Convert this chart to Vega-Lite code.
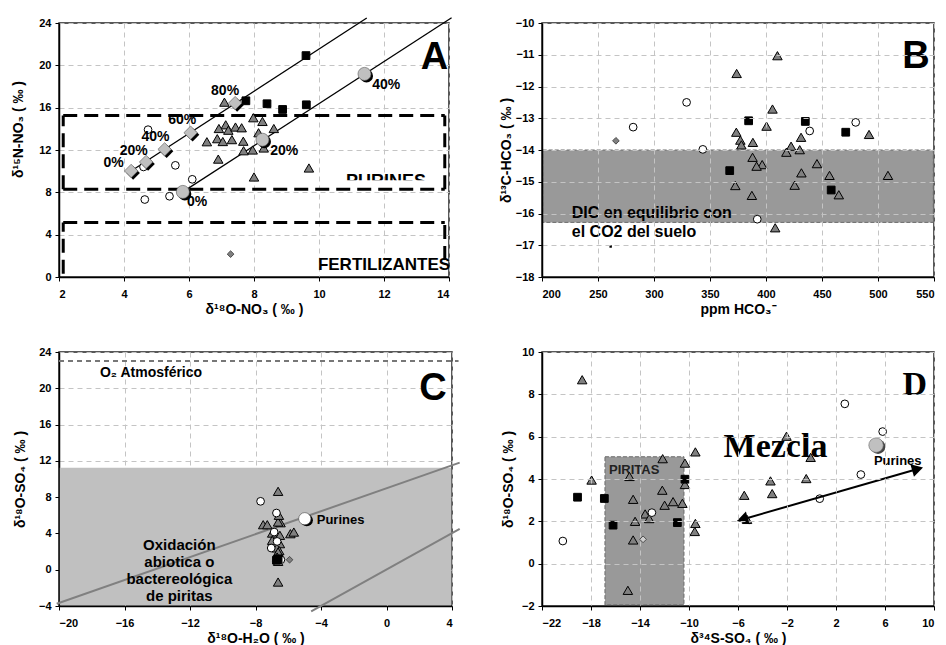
{
  "$schema": "https://vega.github.io/schema/vega-lite/v6.json",
  "padding": {"left": 10, "top": 14, "right": 2, "bottom": 2},
  "background": "white",
  "config": {
    "font": "Liberation Sans",
    "view": {"stroke": "#222222", "strokeWidth": 1.5},
    "axis": {
      "labelFont": "Liberation Sans", "labelFontSize": 11, "labelFontWeight": "bold", "labelColor": "black",
      "titleFont": "Liberation Sans", "titleFontSize": 14, "titleFontWeight": "bold", "titleColor": "black",
      "domainColor": "black", "domainWidth": 1.5, "tickColor": "black", "tickSize": 4, "tickWidth": 1,
      "gridColor": "#c4c4c4", "gridDash": [5, 4], "gridWidth": 1
    },
    "axisX": {"labelPadding": 7, "titlePadding": 3},
    "axisY": {"labelPadding": 4},
    "text": {"font": "Liberation Sans", "fontWeight": "bold"}
  },
  "datasets": {
    "triA": [{"x":7.09,"y":16.52},{"x":7.98,"y":15.05},{"x":8.26,"y":14.7},{"x":8.61,"y":14.03},{"x":8.14,"y":13.63},{"x":7.13,"y":14.38},{"x":6.92,"y":14.03},{"x":7.21,"y":13.87},{"x":7.43,"y":14.17},{"x":7.62,"y":14.1},{"x":6.55,"y":12.78},{"x":6.87,"y":13.07},{"x":7.04,"y":12.8},{"x":7.32,"y":12.98},{"x":7.67,"y":12.83},{"x":7.68,"y":11.93},{"x":7.96,"y":12.0},{"x":8.3,"y":12.19},{"x":6.9,"y":11.14},{"x":8.0,"y":9.45},{"x":9.69,"y":10.3}],
    "circA": [{"x":4.74,"y":13.92},{"x":4.6,"y":10.4},{"x":5.58,"y":10.55},{"x":6.1,"y":9.23},{"x":4.64,"y":7.32},{"x":5.4,"y":7.63}],
    "sqA": [{"x":7.75,"y":16.65},{"x":8.4,"y":16.37},{"x":8.88,"y":15.83},{"x":9.6,"y":20.92},{"x":9.61,"y":16.27}],
    "diaA": [{"x":7.28,"y":2.16}],
    "mixDA": [{"x":4.22,"y":10.02},{"x":4.68,"y":10.87},{"x":5.25,"y":12.06},{"x":6.05,"y":13.63},{"x":7.42,"y":16.43}],
    "mixCA": [{"x":5.81,"y":8.04},{"x":8.26,"y":12.97},{"x":11.4,"y":19.19}],
    "lineA": [{"x":4.22,"y":10.02,"l":"a"},{"x":11.47,"y":24.47,"l":"a"},{"x":5.81,"y":8.04,"l":"b"},{"x":14.08,"y":24.5,"l":"b"}],
    "boxA": [{"x":2.13,"x2":13.87,"y":15.27,"y2":15.27},{"x":2.13,"x2":13.87,"y":8.29,"y2":8.29},{"x":2.13,"x2":2.13,"y":8.29,"y2":15.27},{"x":13.87,"x2":13.87,"y":8.29,"y2":15.27},{"x":2.13,"x2":13.87,"y":5.15,"y2":5.15},{"x":2.13,"x2":2.13,"y":0.3,"y2":5.15},{"x":13.87,"x2":13.87,"y":1.6,"y2":5.15}],
    "pctA": [{"x":3.68,"y":10.77,"label":"0%"},{"x":4.3,"y":11.88,"label":"20%"},{"x":4.97,"y":13.22,"label":"40%"},{"x":5.79,"y":14.8,"label":"60%"},{"x":7.11,"y":17.53,"label":"80%"},{"x":6.25,"y":7.1,"label":"0%"},{"x":8.93,"y":11.9,"label":"20%"},{"x":12.07,"y":18.16,"label":"40%"}],
    "triB": [{"x":410.2,"y":-11.03},{"x":373.8,"y":-11.59},{"x":405.8,"y":-12.71},{"x":400.5,"y":-13.25},{"x":373.5,"y":-13.44},{"x":377.1,"y":-13.69},{"x":378,"y":-13.84},{"x":388.3,"y":-13.76},{"x":422.4,"y":-13.88},{"x":418.2,"y":-14.07},{"x":430.1,"y":-13.99},{"x":431.3,"y":-13.6},{"x":388,"y":-14.23},{"x":396.6,"y":-14.46},{"x":391.6,"y":-14.51},{"x":445.5,"y":-14.43},{"x":431.6,"y":-14.72},{"x":456.7,"y":-14.8},{"x":508.9,"y":-14.8},{"x":492,"y":-13.51},{"x":372.6,"y":-15.12},{"x":425.6,"y":-15.11},{"x":387.4,"y":-15.43},{"x":465,"y":-15.41},{"x":408.2,"y":-16.45}],
    "sqB": [{"x":384.5,"y":-13.08},{"x":435.1,"y":-13.1},{"x":471.2,"y":-13.44},{"x":367.6,"y":-14.65},{"x":458.2,"y":-15.26}],
    "sqsB": [{"x":261.3,"y":-17.04}],
    "circB": [{"x":329.1,"y":-12.5},{"x":281.4,"y":-13.28},{"x":343.6,"y":-13.98},{"x":439,"y":-13.4},{"x":480.1,"y":-13.13},{"x":392.2,"y":-16.18}],
    "diaB": [{"x":266,"y":-13.71}],
    "triC": [{"x":-6.62,"y":8.64},{"x":-7.53,"y":4.96},{"x":-7.28,"y":4.96},{"x":-6.47,"y":5.18},{"x":-6.62,"y":5.26},{"x":-6.57,"y":6.0},{"x":-5.87,"y":3.97},{"x":-5.66,"y":4.15},{"x":-6.98,"y":4.04},{"x":-6.51,"y":3.79},{"x":-6.98,"y":3.24},{"x":-6.51,"y":2.87},{"x":-6.7,"y":2.4},{"x":-6.55,"y":2.1},{"x":-6.62,"y":1.95},{"x":-6.68,"y":1.4},{"x":-6.62,"y":0.92},{"x":-6.62,"y":-1.36}],
    "circC": [{"x":-7.69,"y":7.54},{"x":-6.72,"y":6.25},{"x":-6.86,"y":4.15},{"x":-6.68,"y":3.12},{"x":-7.04,"y":2.39},{"x":-6.45,"y":1.1}],
    "sqC": [{"x":-6.72,"y":1.05},{"x":-6.62,"y":1.2}],
    "diaC": [{"x":-5.92,"y":1.1}],
    "purC": [{"x":-4.99,"y":5.62}],
    "lineC": [{"x":-20.14,"y":-3.75,"l":"a"},{"x":4.47,"y":11.8,"l":"a"},{"x":-4.6,"y":-4.6,"l":"b"},{"x":4.47,"y":4.5,"l":"b"}],
    "triD": [{"x":-18.72,"y":8.69},{"x":-17.95,"y":3.95},{"x":-14.86,"y":4.12},{"x":-12.15,"y":4.96},{"x":-10.33,"y":4.75},{"x":-10.33,"y":3.74},{"x":-9.48,"y":5.28},{"x":-14.56,"y":3.04},{"x":-12.18,"y":3.47},{"x":-11.99,"y":2.76},{"x":-11.3,"y":2.93},{"x":-10.54,"y":2.85},{"x":-13.58,"y":2.35},{"x":-13.25,"y":2.13},{"x":-14.4,"y":2.0},{"x":-14.56,"y":1.12},{"x":-9.48,"y":1.9},{"x":-9.53,"y":1.52},{"x":-14.99,"y":-1.26},{"x":-5.49,"y":3.23},{"x":-3.35,"y":3.91},{"x":-3.21,"y":3.31},{"x":-2.04,"y":6.02},{"x":-0.43,"y":4.02},{"x":-0.07,"y":5.02},{"x":-5.26,"y":2.09}],
    "sqD": [{"x":-19.1,"y":3.14},{"x":-16.91,"y":3.08},{"x":-16.2,"y":1.82},{"x":-10.95,"y":1.94},{"x":-10.33,"y":3.99}],
    "circD": [{"x":-20.3,"y":1.07},{"x":-13.03,"y":2.41},{"x":2.72,"y":7.55},{"x":5.81,"y":6.24},{"x":4.03,"y":4.21},{"x":0.67,"y":3.07}],
    "diaD": [{"x":-13.75,"y":1.15}],
    "purD": [{"x":5.27,"y":5.6}]
  },
  "columns": 2,
  "spacing": {"row": 75, "column": 90},
  "bounds": "flush",
  "concat": [
    {
      "width": 390, "height": 254,
      "encoding": {
        "x": {"field": "x", "type": "quantitative", "scale": {"domain": [2, 14], "nice": false, "zero": false}, "axis": {"values": [2,4,6,8,10,12,14], "title": "δ¹⁸O-NO₃ ( ‰ )"}},
        "y": {"field": "y", "type": "quantitative", "scale": {"domain": [0, 24], "nice": false, "zero": false}, "axis": {"values": [0,4,8,12,16,20,24], "title": "δ¹⁵N-NO₃ ( ‰ )", "titleX": -34, "titleY": 106}}
      },
      "layer": [
        {"data": {"values": [{"x": 12.06, "y": 9.78, "label": "PURINES"}]}, "mark": {"type": "text", "fontSize": 18, "fontWeight": "bold", "baseline": "top", "fill": "black"}, "encoding": {"text": {"field": "label"}}},
        {"data": {"values": [{"x": 10.4, "x2": 13.75, "y": 8.3, "y2": 9.13}]}, "mark": {"type": "rect", "fill": "white"}, "encoding": {"x2": {"field": "x2"}, "y2": {"field": "y2"}}},
        {"data": {"name": "boxA"}, "mark": {"type": "rule", "stroke": "black", "strokeWidth": 3, "strokeDash": [14, 7]}, "encoding": {"x2": {"field": "x2"}, "y2": {"field": "y2"}}},
        {"data": {"name": "lineA"}, "mark": {"type": "line", "stroke": "black", "strokeWidth": 1.3}, "encoding": {"detail": {"field": "l"}}},
        {"data": {"name": "triA"}, "mark": {"type": "point", "shape": "triangle-up", "filled": true, "fill": "#808080", "stroke": "black", "strokeWidth": 1, "size": 90, "opacity": 1}},
        {"data": {"name": "circA"}, "mark": {"type": "point", "shape": "circle", "filled": true, "fill": "white", "stroke": "black", "strokeWidth": 1, "size": 60, "opacity": 1}},
        {"data": {"name": "sqA"}, "mark": {"type": "point", "shape": "square", "filled": true, "fill": "black", "stroke": "black", "strokeWidth": 1, "size": 60, "opacity": 1}},
        {"data": {"name": "diaA"}, "mark": {"type": "point", "shape": "diamond", "filled": true, "fill": "#808080", "stroke": "#333333", "strokeWidth": 0.8, "size": 45, "opacity": 1}},
        {"data": {"name": "mixDA"}, "mark": {"type": "point", "shape": "diamond", "filled": true, "fill": "black", "size": 180, "xOffset": 2, "yOffset": 2, "opacity": 1}},
        {"data": {"name": "mixDA"}, "mark": {"type": "point", "shape": "diamond", "filled": true, "fill": "#c0c0c0", "stroke": "#555555", "strokeWidth": 0.6, "size": 180, "opacity": 1}},
        {"data": {"name": "mixCA"}, "mark": {"type": "point", "shape": "circle", "filled": true, "fill": "black", "size": 170, "xOffset": 2, "yOffset": 2, "opacity": 1}},
        {"data": {"name": "mixCA"}, "mark": {"type": "point", "shape": "circle", "filled": true, "fill": "#c0c0c0", "stroke": "#555555", "strokeWidth": 0.6, "size": 170, "opacity": 1}},
        {"data": {"name": "pctA"}, "mark": {"type": "text", "fontSize": 14, "fontWeight": "bold", "fill": "black"}, "encoding": {"text": {"field": "label"}}},
        {"data": {"values": [{"x": 12.0, "y": 1.13, "label": "FERTILIZANTES"}]}, "mark": {"type": "text", "fontSize": 17, "fontWeight": "bold", "fill": "black"}, "encoding": {"text": {"field": "label"}}},
        {"data": {"values": [{"x": 13.55, "y": 20.7, "label": "A"}]}, "mark": {"type": "text", "fontSize": 38, "fontWeight": "bold", "fill": "black"}, "encoding": {"text": {"field": "label"}}}
      ]
    },
    {
      "width": 392, "height": 254,
      "encoding": {
        "x": {"field": "x", "type": "quantitative", "scale": {"domain": [200, 550], "nice": false, "zero": false}, "axis": {"values": [200,250,300,350,400,450,500,550], "title": "ppm HCO₃⁻", "zindex": 1}},
        "y": {"field": "y", "type": "quantitative", "scale": {"domain": [-18, -10], "nice": false, "zero": false}, "axis": {"values": [-18,-17,-16,-15,-14,-13,-12,-11,-10], "title": "δ¹³C-HCO₃ ( ‰ )", "titleX": -29, "zindex": 1}}
      },
      "layer": [
        {"data": {"values": [{"x": 200.6, "x2": 549.4, "y": -14, "y2": -16.28}]}, "mark": {"type": "rect", "fill": "#999999", "stroke": "#6a6a6a", "strokeWidth": 1, "strokeDash": [4, 2]}, "encoding": {"x2": {"field": "x2"}, "y2": {"field": "y2"}}},
        {"data": {"name": "triB"}, "mark": {"type": "point", "shape": "triangle-up", "filled": true, "fill": "#808080", "stroke": "black", "strokeWidth": 1, "size": 90, "opacity": 1}},
        {"data": {"name": "circB"}, "mark": {"type": "point", "shape": "circle", "filled": true, "fill": "white", "stroke": "black", "strokeWidth": 1, "size": 60, "opacity": 1}},
        {"data": {"name": "sqB"}, "mark": {"type": "point", "shape": "square", "filled": true, "fill": "black", "stroke": "black", "strokeWidth": 1, "size": 60, "opacity": 1}},
        {"data": {"name": "sqsB"}, "mark": {"type": "point", "shape": "square", "filled": true, "fill": "black", "size": 6, "opacity": 1}},
        {"data": {"name": "diaB"}, "mark": {"type": "point", "shape": "diamond", "filled": true, "fill": "#808080", "stroke": "#333333", "strokeWidth": 0.8, "size": 45, "opacity": 1}},
        {"data": {"values": [{"x": 226.6, "y": -15.98, "label": "DIC en equilibrio con\nel CO2 del suelo"}]}, "mark": {"type": "text", "fontSize": 16, "fontWeight": "bold", "align": "left", "baseline": "middle", "lineBreak": "\n", "lineHeight": 19, "fill": "black"}, "encoding": {"text": {"field": "label"}}},
        {"data": {"values": [{"x": 534, "y": -11.07, "label": "B"}]}, "mark": {"type": "text", "fontSize": 38, "fontWeight": "bold", "fill": "black"}, "encoding": {"text": {"field": "label"}}}
      ]
    },
    {
      "width": 393, "height": 254,
      "encoding": {
        "x": {"field": "x", "type": "quantitative", "scale": {"domain": [-20, 4], "nice": false, "zero": false}, "axis": {"values": [-20,-16,-12,-8,-4,0,4], "title": "δ¹⁸O-H₂O ( ‰ )"}},
        "y": {"field": "y", "type": "quantitative", "scale": {"domain": [-4, 24], "nice": false, "zero": false}, "axis": {"values": [-4,0,4,8,12,16,20,24], "title": "δ¹⁸O-SO₄ ( ‰ )", "titleX": -32}}
      },
      "layer": [
        {"data": {"values": [{"x": -19.95, "x2": 3.95, "y": -3.92, "y2": 11.25}]}, "mark": {"type": "rect", "fill": "#c0c0c0"}, "encoding": {"x2": {"field": "x2"}, "y2": {"field": "y2"}}},
        {"data": {"values": [{"x": -20, "x2": 4.4, "y": 23, "y2": 23}]}, "mark": {"type": "rule", "stroke": "#777777", "strokeWidth": 2, "strokeDash": [5, 4]}, "encoding": {"x2": {"field": "x2"}, "y2": {"field": "y2"}}},
        {"data": {"name": "lineC"}, "mark": {"type": "line", "stroke": "#808080", "strokeWidth": 2}, "encoding": {"detail": {"field": "l"}}},
        {"data": {"name": "triC"}, "mark": {"type": "point", "shape": "triangle-up", "filled": true, "fill": "#808080", "stroke": "black", "strokeWidth": 1, "size": 90, "opacity": 1}},
        {"data": {"name": "circC"}, "mark": {"type": "point", "shape": "circle", "filled": true, "fill": "white", "stroke": "black", "strokeWidth": 1, "size": 60, "opacity": 1}},
        {"data": {"name": "sqC"}, "mark": {"type": "point", "shape": "square", "filled": true, "fill": "black", "stroke": "black", "strokeWidth": 1, "size": 60, "opacity": 1}},
        {"data": {"name": "diaC"}, "mark": {"type": "point", "shape": "diamond", "filled": true, "fill": "#808080", "stroke": "#333333", "strokeWidth": 0.8, "size": 45, "opacity": 1}},
        {"data": {"name": "purC"}, "mark": {"type": "point", "shape": "circle", "filled": true, "fill": "black", "size": 150, "xOffset": 2, "yOffset": 1.5, "opacity": 1}},
        {"data": {"name": "purC"}, "mark": {"type": "point", "shape": "circle", "filled": true, "fill": "white", "stroke": "#444444", "strokeWidth": 0.6, "size": 150, "opacity": 1}},
        {"data": {"values": [{"x": -4.26, "y": 5.48, "label": "Purines"}]}, "mark": {"type": "text", "fontSize": 13, "fontWeight": "bold", "align": "left", "fill": "black"}, "encoding": {"text": {"field": "label"}}},
        {"data": {"values": [{"x": -17.5, "y": 21.7, "label": "O₂ Atmosférico"}]}, "mark": {"type": "text", "fontSize": 14, "fontWeight": "bold", "align": "left", "fill": "black"}, "encoding": {"text": {"field": "label"}}},
        {"data": {"values": [{"x": -12.65, "y": 2.72, "label": "Oxidación\nabiotica o\nbactereológica\nde piritas"}]}, "mark": {"type": "text", "fontSize": 15, "fontWeight": "bold", "lineBreak": "\n", "lineHeight": 17, "baseline": "middle", "fill": "black"}, "encoding": {"text": {"field": "label"}}},
        {"data": {"values": [{"x": 2.84, "y": 19.9, "label": "C"}]}, "mark": {"type": "text", "fontSize": 38, "fontWeight": "bold", "fill": "black"}, "encoding": {"text": {"field": "label"}}}
      ]
    },
    {
      "width": 392, "height": 254,
      "encoding": {
        "x": {"field": "x", "type": "quantitative", "scale": {"domain": [-22, 10], "nice": false, "zero": false}, "axis": {"values": [-22,-18,-14,-10,-6,-2,2,6,10], "title": "δ³⁴S-SO₄ ( ‰ )", "zindex": 1}},
        "y": {"field": "y", "type": "quantitative", "scale": {"domain": [-2, 10], "nice": false, "zero": false}, "axis": {"values": [-2,0,2,4,6,8,10], "title": "δ¹⁸O-SO₄ ( ‰ )", "titleX": -27, "zindex": 1}}
      },
      "layer": [
        {"data": {"values": [{"x": -16.86, "x2": -10.41, "y": -1.95, "y2": 5.05}]}, "mark": {"type": "rect", "fill": "#999999", "stroke": "#6a6a6a", "strokeWidth": 1, "strokeDash": [4, 2]}, "encoding": {"x2": {"field": "x2"}, "y2": {"field": "y2"}}},
        {"data": {"values": [{"x": -16.53, "y": 4.42, "label": "PIRITAS"}]}, "mark": {"type": "text", "fontSize": 13, "fontWeight": "bold", "align": "left", "fill": "#222222"}, "encoding": {"text": {"field": "label"}}},
        {"data": {"name": "triD"}, "mark": {"type": "point", "shape": "triangle-up", "filled": true, "fill": "#808080", "stroke": "black", "strokeWidth": 1, "size": 90, "opacity": 1}},
        {"data": {"name": "sqD"}, "mark": {"type": "point", "shape": "square", "filled": true, "fill": "black", "stroke": "black", "strokeWidth": 1, "size": 60, "opacity": 1}},
        {"data": {"name": "circD"}, "mark": {"type": "point", "shape": "circle", "filled": true, "fill": "white", "stroke": "black", "strokeWidth": 1, "size": 60, "opacity": 1}},
        {"data": {"name": "diaD"}, "mark": {"type": "point", "shape": "diamond", "filled": true, "fill": "#cfcfcf", "stroke": "#333333", "strokeWidth": 0.8, "size": 45, "opacity": 1}},
        {"data": {"name": "purD"}, "mark": {"type": "point", "shape": "circle", "filled": true, "fill": "#444444", "size": 210, "xOffset": 2, "yOffset": 1.5, "opacity": 1}},
        {"data": {"name": "purD"}, "mark": {"type": "point", "shape": "circle", "filled": true, "fill": "#c0c0c0", "stroke": "#666666", "strokeWidth": 0.6, "size": 210, "opacity": 1}},
        {"data": {"values": [{"x": -2.94, "y": 5.5, "label": "Mezcla"}]}, "mark": {"type": "text", "font": "Liberation Serif", "fontSize": 34, "fontWeight": "bold", "fill": "black"}, "encoding": {"text": {"field": "label"}}},
        {"data": {"values": [{"x": 7.04, "y": 4.83, "label": "Purines"}]}, "mark": {"type": "text", "fontSize": 13, "fontWeight": "bold", "fill": "black"}, "encoding": {"text": {"field": "label"}}},
        {"data": {"values": [{"x": -5.65, "y": 2.09, "x2": 8.66, "y2": 4.47}]}, "mark": {"type": "rule", "stroke": "black", "strokeWidth": 2}, "encoding": {"x2": {"field": "x2"}, "y2": {"field": "y2"}}},
        {"data": {"values": [{"x": 8.66, "y": 4.47}]}, "mark": {"type": "point", "shape": "triangle-right", "angle": -16, "filled": true, "fill": "black", "size": 170, "opacity": 1}},
        {"data": {"values": [{"x": -5.65, "y": 2.09}]}, "mark": {"type": "point", "shape": "triangle-left", "angle": -16, "filled": true, "fill": "black", "size": 170, "opacity": 1}},
        {"data": {"values": [{"x": 8.44, "y": 8.43, "label": "D"}]}, "mark": {"type": "text", "font": "Liberation Serif", "fontSize": 34, "fontWeight": "bold", "fill": "black"}, "encoding": {"text": {"field": "label"}}}
      ]
    }
  ]
}
